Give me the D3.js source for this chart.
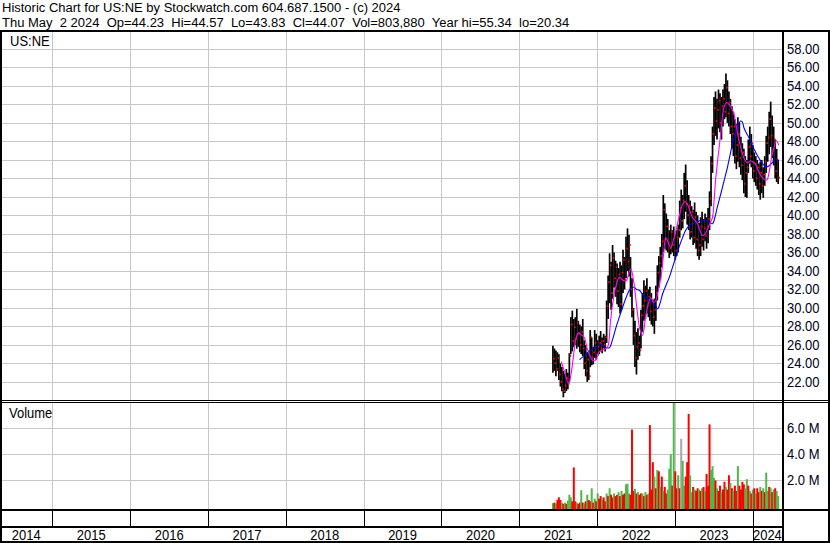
<!DOCTYPE html>
<html>
<head>
<meta charset="utf-8">
<script src="https://cdn.jsdelivr.net/npm/d3@7"></script>
<style>
  body { margin: 0; background: #fff; }
  text { font-family: "Liberation Sans", Arial, sans-serif; }
</style>
</head>
<body>
<div id="chart"></div>
<script>
// Weekly bars for US:NE, first week starting Mon 7 Jun 2021
const firstWeek = new Date(2021, 5, 7);

const highs = [25.9,25.6,25.4,25.2,25.0,24.0,23.6,23.2,22.9,23.4,23.0,25.1,29.0,29.7,28.8,29.0,29.9,28.6,28.2,28.0,
  28.8,26.5,26.0,25.2,25.4,27.6,26.8,25.8,27.6,27.2,26.5,27.0,27.5,26.8,27.2,27.0,30.8,33.5,35.9,35.0,
  36.8,36.0,35.1,34.8,34.3,35.0,34.6,36.3,35.5,37.7,38.6,37.9,35.5,33.2,30.0,28.6,27.4,27.8,27.0,29.8,
  31.6,33.0,32.4,33.2,32.0,32.3,31.6,30.8,31.0,32.4,34.6,35.6,36.6,38.0,42.2,41.3,40.2,39.6,38.4,39.0,
  38.4,38.8,38.0,38.4,39.0,41.6,42.8,42.2,44.6,45.5,43.8,42.2,41.6,41.0,40.6,41.4,40.4,40.0,39.2,39.8,
  40.4,39.6,40.2,39.8,40.8,42.6,46.4,49.6,52.8,53.4,52.6,53.6,53.2,52.8,53.6,54.2,55.34,54.6,53.4,52.6,
  51.8,51.2,50.4,49.9,50.6,50.0,48.5,47.8,47.2,46.4,46.0,48.2,49.6,48.8,47.6,46.8,46.4,46.0,45.6,45.8,
  46.0,45.2,46.4,48.6,49.6,51.2,52.3,50.8,49.6,48.2,47.2,46.0];

const lows = [23.0,23.2,22.6,23.2,22.2,21.5,21.0,20.34,20.8,21.0,21.2,22.0,25.0,25.3,25.8,26.0,25.6,25.8,25.2,25.0,
  24.8,23.4,22.6,22.0,22.2,23.6,23.8,23.9,24.6,24.4,24.8,25.0,25.3,25.1,25.6,25.3,26.2,28.8,30.5,29.8,
  31.0,32.2,31.2,30.4,30.1,29.4,29.8,31.6,32.0,33.2,34.0,33.4,31.2,29.0,26.0,23.6,22.8,24.4,24.8,25.6,
  27.4,28.6,28.8,29.4,29.0,28.6,28.2,28.0,27.2,28.6,30.8,32.2,33.0,34.4,36.0,36.4,36.2,36.0,35.4,35.8,
  36.0,35.6,35.2,35.6,36.0,37.6,38.4,38.6,39.6,40.4,39.0,38.4,37.4,37.6,36.8,37.0,36.4,35.6,35.2,35.6,
  36.6,36.2,37.2,36.4,37.0,38.4,41.0,44.6,47.6,48.6,48.2,49.4,49.0,48.2,49.6,50.4,50.6,50.0,49.6,48.8,
  47.2,46.4,45.6,45.0,45.8,45.2,44.4,43.8,42.4,42.0,41.9,44.6,45.6,45.2,44.0,43.6,43.2,42.8,42.2,41.7,
  42.4,41.9,43.2,44.6,45.8,46.6,47.4,46.2,45.4,44.0,43.6,43.4];

const closes = [24.5,24.0,23.4,24.6,22.8,22.0,21.2,21.0,21.6,22.4,21.8,24.8,28.2,26.4,27.9,26.6,28.4,27.2,26.0,27.4,
  25.6,24.0,23.2,24.4,22.6,26.8,24.6,25.2,26.2,25.0,25.8,26.2,25.6,26.4,26.0,26.8,30.2,32.8,34.6,31.6,
  35.4,33.2,34.4,31.8,33.6,30.4,33.8,35.2,33.0,36.4,35.0,36.8,32.0,29.8,27.0,24.6,25.8,26.2,25.4,29.2,
  30.2,30.8,31.8,30.2,31.2,29.6,30.8,29.0,29.8,31.6,33.8,34.8,35.6,37.2,40.6,37.4,38.8,37.0,36.4,38.2,
  36.8,37.8,36.2,37.6,38.4,40.8,39.4,41.6,43.2,41.2,40.0,41.0,38.2,40.4,37.6,39.8,37.4,36.2,36.8,38.8,
  37.4,38.6,37.8,38.8,39.6,41.8,45.6,48.8,51.6,50.2,51.4,52.4,50.0,51.8,52.6,51.2,53.8,51.0,52.2,49.6,
  48.8,49.6,46.4,47.6,48.8,46.2,45.4,46.8,43.4,44.6,45.2,47.4,46.4,47.8,44.8,45.6,44.0,45.2,43.4,44.6,
  43.2,44.4,45.8,47.8,48.4,50.4,48.6,47.0,48.2,44.8,46.0,44.07];

// Typical daily volume of each week, millions, and bar colour (g up, r down, n unchanged)
const volumes = [0.25,0.3,0.2,0.5,0.7,0.5,0.3,0.2,0.3,0.2,0.45,0.9,0.7,0.4,3.0,0.4,0.3,0.2,0.3,1.25,
  0.3,0.25,0.4,0.9,0.5,0.4,1.4,0.3,0.6,0.4,1.0,0.6,0.8,0.5,0.7,0.4,1.0,0.8,1.4,0.9,
  0.7,1.0,0.8,0.9,1.1,0.8,1.2,0.9,1.0,1.7,1.75,1.0,0.9,5.9,1.2,1.35,1.0,1.1,0.9,1.0,
  1.0,0.8,1.1,0.9,1.0,6.25,1.3,3.4,2.3,1.4,2.8,2.7,1.5,2.3,1.2,1.5,1.0,1.3,2.9,4.0,
  1.6,8.0,2.7,1.4,2.4,1.4,5.2,3.5,1.6,2.3,3.4,7.1,2.4,1.1,1.5,1.3,1.2,1.4,1.3,1.2,
  1.4,1.5,1.2,2.5,1.6,6.3,2.8,3.1,2.2,2.0,1.4,1.2,1.6,1.1,1.3,1.9,1.5,1.3,2.4,1.8,
  1.4,1.2,1.6,1.2,3.1,1.6,1.3,1.9,1.7,1.4,2.1,1.6,1.2,1.0,1.3,1.4,1.0,1.4,1.1,1.5,
  1.2,1.4,1.1,2.6,1.2,1.5,1.4,1.1,1.3,1.4,1.2,0.8];

const volSides = ("grgrrrgrgrgggrrrgrrg" + "rgrgrrgrgrgrrgrrgrgr" + "rgrrgrgrrgggrrrgrgrr" +
  "grgrgrrrgrgrgrgrrggg" + "rgrrgrnggrrrggrgrrgr" + "grgrrrgggrgrrgrrgrrg" +
  "rgrrgrrrrggrgrgrgrrg" + "rgrggrgrgrgg").split("");

// Moving averages: [week index, price]
const fastMA = [[5.6,24.2],[8,23.0],[10.5,21.8],[12.3,23.0],[13.4,24.3],[15.6,26.8],[17,27.3],[19,27.1],[21,26.8],[23,25.6],
  [24.6,24.9],[26.9,24.3],[29,24.4],[30.3,25.1],[32.3,25.4],[34.5,25.5],[36.7,25.8],[38.5,28.4],[40,30.4],[42,32.2],
  [44.5,33.3],[47,33.0],[49,32.9],[51,33.8],[52.3,34.2],[54,33.0],[55.7,30.8],[57,29.0],[58,27.9],[60,27.0],
  [62.4,29.3],[64,30.5],[65.7,31.1],[67.5,30.6],[69,30.8],[70.5,31.8],[72.4,33.3],[74,35.5],[75.7,37.6],[77.5,37.0],
  [79,36.5],[80.5,37.2],[82.4,38.3],[84.5,39.8],[86.9,41.2],[88.5,41.5],[90.2,41.2],[92,40.4],[93.5,39.8],[95,39.5],
  [96.9,39.1],[98.5,38.4],[100.2,37.8],[102,38.0],[103.6,38.5],[105.5,39.2],[107,39.8],[108,41.5],[109,43.7],[110.8,46.5],
  [112.5,48.8],[114.7,51.7],[116.5,52.2],[118,52.0],[119.8,51.6],[121.4,50.9],[123,49.6],[124.7,48.1],[126.8,46.8],[129,45.9],
  [130.8,45.7],[132.5,45.9],[134,45.8],[135.9,45.5],[138,44.7],[140.3,44.1],[142.5,43.8],[143.7,43.9],[145.5,45.2],[147,46.6],
  [148.5,47.5],[149.7,48.1],[151.4,47.6]];

const slowMA = [[17.8,24.4],[20,24.7],[22.5,25.0],[24.5,25.3],[27,25.6],[30,25.9],[32,26.0],[34,25.9],[36,25.7],[37.9,25.7],
  [40,26.6],[42.3,27.9],[44.5,29.0],[46.8,30.1],[49,31.1],[51.2,31.9],[53,32.2],[54.6,32.2],[56,32.0],[57.9,31.9],
  [60,31.5],[62.4,31.1],[64.5,30.9],[66.8,30.8],[68.5,30.3],[70.2,29.9],[72,30.6],[73.5,31.5],[75.7,32.4],[78,33.3],
  [80.2,34.4],[82.4,35.5],[84.6,36.6],[86.9,37.6],[89,38.4],[91.3,38.9],[93.5,39.1],[95.8,39.2],[98,39.4],[100.2,39.5],
  [102,39.5],[103.6,39.4],[105.3,39.2],[107,39.1],[108.6,39.8],[110.2,40.9],[112,42.0],[113.6,43.0],[115.3,44.1],[117,45.2],
  [118.6,46.4],[120.3,47.7],[122,48.7],[123.6,49.5],[125.8,50.2],[127,50.1],[128,49.5],[129.7,48.9],[131.4,48.4],[133,47.8],
  [134.7,47.2],[137,46.5],[139.2,45.9],[141,45.5],[142.5,45.3],[144.2,45.3],[145.9,45.5],[147.5,45.8],[149.2,46.1],[151.4,45.9]];

// Axis labels
const priceTicks = [22,24,26,28,30,32,34,36,38,40,42,44,46,48,50,52,54,56,58];
const volumeTicks = [2,4,6];
const years = [2014,2015,2016,2017,2018,2019,2020,2021,2022,2023,2024];

const headerLines = [
  "Historic Chart for US:NE by Stockwatch.com 604.687.1500 - (c) 2024",
  "Thu May  2 2024  Op=44.23  Hi=44.57  Lo=43.83  Cl=44.07  Vol=803,880  Year hi=55.34  lo=20.34"
];

// Layout
const width = 830;
const height = 543;
const plotRight = 782;
const priceTop = 30, priceBottom = 400;
const volTop = 402, volBottom = 509;
const gridColor = "#c8c8c8";
const stretch = "scale(1,1.12)";   // the reference font is a little taller than wide

const svg = d3.select("#chart").append("svg")
    .attr("width", width)
    .attr("height", height);

// Scales
const x = d3.scaleTime()
    .domain([new Date(2015, 0, 1), new Date(2024, 0, 1)])
    .range([52.4, 752.8]);
const y = d3.scaleLinear().domain([22, 58]).range([381.9, 48.9]);
const yVol = d3.scaleLinear().domain([0, 6]).range([506.5, 428.3]);

const weekDate = i => new Date(+firstWeek + i * 7 * 864e5);
const wx = i => x(weekDate(i));
const yearX = yr => Math.max(0, Math.min(plotRight, x(new Date(yr, 0, 1))));

// Header
svg.selectAll("text.header")
    .data(headerLines)
    .join("text")
    .attr("class", "header")
    .attr("transform", (d, i) => `translate(2,${12 + i * 15}) scale(1,1.04)`)
    .attr("font-size", 13)
    .style("white-space", "pre")
    .text(d => d);

// Clip paths
svg.append("clipPath").attr("id", "clipPrice")
  .append("rect").attr("x", 0).attr("y", priceTop).attr("width", plotRight).attr("height", priceBottom - priceTop);
svg.append("clipPath").attr("id", "clipVol")
  .append("rect").attr("x", 0).attr("y", volTop).attr("width", plotRight).attr("height", volBottom - volTop);

// Grid: horizontal price lines
svg.append("g").selectAll("line")
    .data(priceTicks)
    .join("line")
    .attr("x1", 0).attr("x2", plotRight)
    .attr("y1", d => Math.round(y(d)) + 0.5).attr("y2", d => Math.round(y(d)) + 0.5)
    .attr("stroke", gridColor);

// Grid: horizontal volume lines
svg.append("g").selectAll("line")
    .data(volumeTicks)
    .join("line")
    .attr("x1", 0).attr("x2", plotRight)
    .attr("y1", d => Math.round(yVol(d)) + 0.5).attr("y2", d => Math.round(yVol(d)) + 0.5)
    .attr("stroke", gridColor);

// Grid: year boundaries in both panels
const yearBounds = years.slice(1);
[[priceTop, priceBottom], [volTop, volBottom]].forEach(([t, b]) => {
  svg.append("g").selectAll("line")
      .data(yearBounds)
      .join("line")
      .attr("x1", d => Math.round(yearX(d)) + 0.5).attr("x2", d => Math.round(yearX(d)) + 0.5)
      .attr("y1", t).attr("y2", b)
      .attr("stroke", gridColor);
});

// Panel labels
svg.append("text").attr("transform", `translate(10,46) ${stretch}`).attr("font-size", 13).text("US:NE");
svg.append("text").attr("transform", `translate(9,418) ${stretch}`).attr("font-size", 13).text("Volume");

// Price bars
const priceG = svg.append("g").attr("clip-path", "url(#clipPrice)");
priceG.append("g").selectAll("line")
    .data(highs)
    .join("line")
    .attr("x1", (d, i) => wx(i)).attr("x2", (d, i) => wx(i))
    .attr("y1", d => y(d))
    .attr("y2", (d, i) => y(lows[i]))
    .attr("stroke", "#000")
    .attr("stroke-width", 1.7);

// Close ticks
priceG.append("g").selectAll("rect")
    .data(closes)
    .join("rect")
    .attr("x", (d, i) => wx(i) + 0.2)
    .attr("y", d => y(d) - 1)
    .attr("width", 1.6)
    .attr("height", 1.8)
    .attr("fill", "#ff0000");

// Moving averages
const maLine = d3.line()
    .x(d => wx(d[0]))
    .y(d => y(d[1]))
    .curve(d3.curveCatmullRom);
priceG.append("path").datum(slowMA)
    .attr("d", maLine).attr("fill", "none").attr("stroke", "#0000ff").attr("stroke-width", 1.1);
priceG.append("path").datum(fastMA)
    .attr("d", maLine).attr("fill", "none").attr("stroke", "#ff00ff").attr("stroke-width", 1.1);

// Volume bars
const volColor = { g: "#4fb848", r: "#ff0000", n: "#a8a8a8" };
svg.append("g").attr("clip-path", "url(#clipVol)")
  .selectAll("rect")
    .data(volumes)
    .join("rect")
    .attr("x", (d, i) => wx(i) - 1)
    .attr("y", d => yVol(d))
    .attr("width", 2)
    .attr("height", d => volBottom - yVol(d))
    .attr("fill", (d, i) => volColor[volSides[i]]);

// Right axis labels
svg.append("g").selectAll("text")
    .data(priceTicks)
    .join("text")
    .attr("transform", d => `translate(787,${y(d) + 5}) ${stretch}`)
    .attr("font-size", 13)
    .attr("fill", "#000022")
    .text(d3.format(".2f"));

svg.append("g").selectAll("text")
    .data(volumeTicks)
    .join("text")
    .attr("transform", d => `translate(787,${yVol(d) + 5}) ${stretch}`)
    .attr("font-size", 13)
    .attr("fill", "#000022")
    .text(d => d3.format(".1f")(d) + " M");

// Frame and separators
const black = "#000";
svg.append("rect").attr("x", 1).attr("y", 31).attr("width", width - 2).attr("height", 511)
    .attr("fill", "none").attr("stroke", black).attr("stroke-width", 2);
svg.append("line").attr("x1", plotRight + 1).attr("x2", plotRight + 1).attr("y1", 31).attr("y2", 542)
    .attr("stroke", black).attr("stroke-width", 2);
[400.5, 402.5].forEach(v => {
  svg.append("line").attr("x1", 0).attr("x2", width).attr("y1", v).attr("y2", v)
      .attr("stroke", black).attr("stroke-width", 1);
});
svg.append("line").attr("x1", 0).attr("x2", width).attr("y1", 510).attr("y2", 510)
    .attr("stroke", black).attr("stroke-width", 2);
svg.append("line").attr("x1", 0).attr("x2", plotRight).attr("y1", 527).attr("y2", 527)
    .attr("stroke", black).attr("stroke-width", 2);

// Time axis: ticks in the upper row, labels in the lower row
svg.append("g").selectAll("line")
    .data(yearBounds)
    .join("line")
    .attr("x1", d => Math.round(yearX(d)) + 0.5).attr("x2", d => Math.round(yearX(d)) + 0.5)
    .attr("y1", 511).attr("y2", d => d === 2024 ? 541 : 526)
    .attr("stroke", black);

svg.append("g").selectAll("text")
    .data(years)
    .join("text")
    .attr("transform", d => `translate(${(yearX(d) + yearX(d + 1)) / 2},540) scale(1,1.15)`)
    .attr("text-anchor", "middle")
    .attr("font-size", 13)
    .text(d => d);
</script>
</body>
</html>
